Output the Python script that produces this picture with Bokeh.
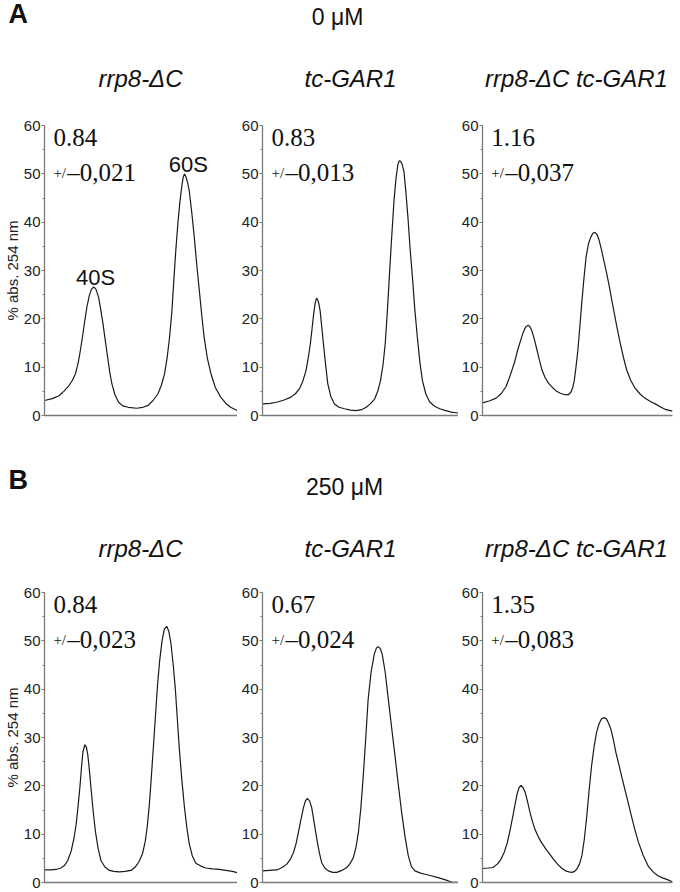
from bokeh.plotting import figure
from bokeh.models import Range1d, Label, SingleIntervalTicker, FixedTicker
from bokeh.layouts import column, row
from bokeh.embed import file_html
from bokeh.resources import INLINE

# ---------------- data (x = % of gradient, y = % abs. 254 nm) ----------------
A1_x = [0, 4, 7.5, 10, 12.7, 14.5, 16.1, 17.5, 18.6, 19.8, 20.9, 22, 23.2, 24.3, 25.5, 26.7, 28.0,
        29.1, 30.3, 31.5, 32.7, 33.8, 34.9, 36.5, 38.3, 40.5, 43.4, 47.7, 51, 53.7, 56, 58.8, 60.5,
        62.2, 63.5, 64.8, 66, 67.0, 68, 69.1, 70.1, 71.1, 71.8, 72.5, 73.3, 74.1, 75.0, 76.3, 77.6,
        78.9, 80.2, 81.5, 82.7, 84.4, 86.2, 88.5, 91.3, 94, 96.4, 100]
A1_y = [3.1, 3.5, 4.1, 5.0, 6.2, 7.3, 8.7, 11.0, 13.5, 16.6, 19.7, 22.5, 24.8, 26.1, 26.6, 26.1, 24.5,
        22.0, 19.0, 15.5, 12.1, 9.0, 6.6, 4.3, 2.8, 2.0, 1.7, 1.5, 1.7, 2.1, 3.0, 4.5, 6.2,
        8.6, 11.8, 16.2, 21.5, 27.9, 34.0, 39.7, 44.0, 47.3, 49.2, 50.0, 49.4, 48.3, 46.5, 42.0, 36.9,
        31.2, 25.9, 20.7, 16.2, 11.8, 8.7, 5.8, 3.8, 2.5, 1.7, 1.0]

A2_x = [0, 4, 7.7, 11, 14.5, 16.8, 18.8, 20.5, 22.2, 23.3, 24.4, 25.3, 26.1, 26.9, 27.6, 28.5, 29.4,
        30.2, 31.1, 32.2, 33.3, 34.8, 36.7, 39, 41.8, 45, 47.8, 50.5, 52.9, 55, 57.2, 58.8, 60.2,
        61.5, 62.6, 63.7, 64.8, 66, 67.1, 68.1, 69.1, 69.8, 70.5, 71.3, 72.2, 73.2, 74.2, 75.3,
        76.5, 77.7, 79.0, 80.3, 81.6, 83.3, 85.3, 87.8, 90.4, 93.5, 96.4, 100]
A2_y = [2.4, 2.5, 2.8, 3.2, 3.8, 4.5, 5.5, 7.0, 9.3, 11.8, 14.8, 18.0, 21.0, 23.3, 24.3, 23.6, 21.7,
        18.5, 14.8, 10.5, 6.6, 4.0, 2.4, 1.7, 1.4, 1.1, 1.0, 1.2, 1.7, 2.4, 3.4, 5.0, 7.2,
        10.5, 14.8, 21.5, 29.3, 37.5, 44.5, 49.0, 52.0, 52.7, 52.6, 51.9, 50.4, 46.0, 41.0, 34.5,
        28.6, 22.0, 16.2, 11.0, 7.2, 4.5, 2.8, 1.9, 1.4, 1.0, 0.7, 0.5]

A3_x = [0, 3.5, 7.2, 10, 12.4, 14.5, 16.7, 18.5, 20.1, 21.5, 22.7, 24.1, 25.1, 26.1, 27.4, 28.7, 30,
        31.3, 33, 34.7, 36.8, 39.0, 41, 43.3, 45.2, 46.5, 47.5, 48.3, 49.2, 50.2, 51.2, 52.2, 53.3,
        54.5, 55.8, 57.0, 58.1, 59.1, 60.2, 61.3, 62.6, 63.9, 65.2, 66.5, 67.8, 69.1, 70.8, 72.5,
        74.2, 75.9, 78, 80.2, 82.8, 85.4, 88.4, 91.4, 94, 96.6, 100]
A3_y = [2.6, 3.0, 3.6, 4.6, 6.0, 8.2, 10.8, 13.5, 15.6, 17.3, 18.3, 18.7, 18.3, 17.4, 15.6, 13.5, 11.4,
        9.4, 7.8, 6.7, 5.8, 5.0, 4.6, 4.3, 4.3, 4.8, 5.8, 7.2, 10.0, 13.5, 18.2, 23.1, 28.0,
        32.7, 35.6, 36.9, 37.7, 37.9, 37.5, 36.4, 34.3, 32.0, 29.7, 27.2, 24.4, 21.7, 18.2, 14.9,
        12.0, 9.4, 7.3, 5.7, 4.5, 3.6, 2.9, 2.3, 1.7, 1.2, 0.9]

B1_x = [0, 3, 6, 8.5, 10.3, 12, 13.8, 15.2, 16.4, 17.4, 18.4, 19.2, 19.9, 20.9, 21.7, 22.4, 23.2,
        24.1, 25.2, 26.4, 27.8, 29.3, 31.3, 33.6, 36, 38.8, 41.8, 44.8, 47, 49.1, 50.8, 52.2, 53.3,
        54.3, 55.3, 56.4, 57.5, 58.6, 59.7, 60.9, 62.1, 63.3, 64.4, 65.5, 66.7, 67.8, 68.8, 69.8,
        71.1, 72.4, 73.7, 75, 76.6, 78.4, 81, 83.6, 87, 90.5, 94, 97.4, 100]
B1_y = [2.6, 2.6, 2.7, 3.0, 3.5, 4.5, 6.5, 9.0, 12.0, 15.8, 20.0, 24.0, 27.0, 28.5, 28.0, 26.5, 23.5,
        19.5, 14.8, 10.5, 7.0, 4.5, 3.2, 2.5, 2.3, 2.2, 2.3, 2.5, 3.2, 4.4, 6.0, 8.5, 11.8,
        16.0, 21.5, 28.0, 34.5, 41.0, 46.0, 50.0, 52.4, 53.0, 52.0, 49.5, 45.0, 40.0, 34.0, 28.0,
        21.5, 16.0, 11.5, 8.0, 5.5, 4.0, 3.4, 3.0, 2.8, 2.7, 2.5, 2.3, 2.0]

B2_x = [0, 3.5, 7.3, 10, 12.4, 14.2, 15.8, 17.1, 18.3, 19.6, 20.9, 21.9, 22.9, 24.0, 25.1, 26.4,
        27.7, 29, 30.2, 31.8, 33.6, 35.8, 37.9, 40.5, 43.0, 44.8, 46.4, 47.7, 48.9, 50.2, 51.4,
        52.7, 53.9, 55.4, 57.0, 58.1, 59.1, 60.1, 61.1, 62.6, 64.2, 65.9, 67.6, 69.3, 71.0, 72.7,
        74.4, 76, 77.8, 80.3, 82.9, 86, 89.6, 93, 96.4, 100]
B2_y = [2.4, 2.5, 2.6, 3.1, 3.8, 4.8, 6.2, 8.0, 10.3, 13.0, 15.5, 16.9, 17.4, 16.9, 15.5, 12.3,
        9.0, 6.2, 4.1, 3.0, 2.4, 2.1, 2.1, 2.5, 3.1, 4.0, 5.2, 7.3, 10.3, 15.5, 22.0,
        30.0, 37.9, 43.5, 47.2, 48.5, 48.8, 48.4, 47.2, 43.5, 37.9, 32.0, 26.2, 20.2, 14.5, 9.5,
        5.5, 3.3, 2.4, 2.0, 1.7, 1.4, 1.0, 0.6, 0.1, 0.0]

B3_x = [0, 3, 5.5, 7.8, 9.7, 11.5, 13.1, 14.6, 16.0, 17.2, 18.2, 19.2, 20.3, 21.4, 22.5, 23.8, 25.0,
        26.3, 27.6, 29.3, 31.0, 33.2, 35.3, 37.4, 39.5, 41.6, 43.8, 45.5, 47.2, 48.5, 49.7, 51,
        52.3, 53.6, 54.9, 56.1, 57.4, 58.7, 60.0, 61.3, 62.5, 63.8, 65.1, 66.3, 67.6, 68.9, 70.2,
        71.9, 73.6, 75.8, 77.9, 80, 82.1, 84.6, 87.2, 89.8, 92.3, 95, 97.4, 100]
B3_y = [2.9, 3.0, 3.1, 3.8, 4.8, 6.3, 8.3, 11.0, 13.8, 16.3, 18.3, 19.6, 20.1, 19.6, 18.6, 16.6, 14.5,
        12.6, 11.0, 9.5, 8.3, 7.0, 5.9, 4.8, 3.8, 3.0, 2.4, 2.2, 2.1, 2.3, 2.8, 3.8,
        5.5, 9.0, 13.8, 19.0, 24.1, 28.0, 31.0, 32.8, 33.8, 34.1, 33.9, 33.0, 31.7, 29.5, 26.9,
        24.2, 21.4, 17.9, 14.5, 11.2, 8.3, 5.6, 3.4, 2.2, 1.4, 0.9, 0.6, 0.1]

strains = ["rrp8-\u0394C", "tc-GAR1", "rrp8-\u0394C tc-GAR1"]
concentrations = ["0 \u03bcM", "250 \u03bcM"]
panel_letters = ["A", "B"]
ratios = [["0.84", "0.83", "1.16"], ["0.84", "0.67", "1.35"]]
errors = [["0,021", "0,013", "0,037"], ["0,023", "0,024", "0,083"]]
peak_names = ["40S", "60S"]
y_label = "% abs. 254 nm"

SANS = "Liberation Sans"
SERIF = "Liberation Serif"
AXIS_COL = "#7a7a7a"

W = 674
col_left = [42, 25, 21]      # left borders
col_fw = [195, 196, 193]     # frame widths
col_right = [0, 0, 2]


def panel(xs, ys, ci, ratio, err, bt, fh, bb, peaks=False):
    bl, fw, br = col_left[ci], col_fw[ci], col_right[ci]
    p = figure(width=bl + fw + br, height=bt + fh + bb,
               x_range=Range1d(0, 100), y_range=Range1d(0, 60),
               output_backend="svg", toolbar_location=None,
               min_border_left=bl, min_border_right=br,
               min_border_top=bt, min_border_bottom=bb)
    p.outline_line_color = None
    p.grid.grid_line_color = None
    # x axis: plain line
    xa = p.xaxis[0]
    xa.ticker = FixedTicker(ticks=[])
    xa.major_tick_out = 0
    xa.major_tick_in = 0
    xa.minor_tick_out = 0
    xa.minor_tick_in = 0
    xa.major_label_standoff = 0
    xa.axis_line_color = AXIS_COL
    xa.axis_line_width = 1.3
    # y axis
    ya = p.yaxis[0]
    ya.ticker = SingleIntervalTicker(interval=10, num_minor_ticks=2)
    ya.major_tick_in = 0
    ya.major_tick_out = 3
    ya.minor_tick_in = 0
    ya.minor_tick_out = 2
    ya.major_label_standoff = 1
    ya.axis_line_color = AXIS_COL
    ya.axis_line_width = 1.3
    ya.major_tick_line_color = AXIS_COL
    ya.minor_tick_line_color = AXIS_COL
    ya.major_label_text_font = SANS
    ya.major_label_text_font_size = "15px"
    ya.major_label_text_color = "#222222"
    if ci == 0:
        ya.axis_label = y_label
        ya.axis_label_standoff = 0
        ya.axis_label_text_font = SANS
        ya.axis_label_text_font_size = "15px"
        ya.axis_label_text_font_style = "normal"
        ya.axis_label_text_color = "#222222"

    p.line(xs, ys, line_color="#1a1a1a", line_width=1.2)

    px = 100.0 / fw
    p.add_layout(Label(x=9 * px, y=57.5, text=ratio, text_font=SERIF,
                       text_font_size="25px", text_color="#111111",
                       text_align="left", text_baseline="alphabetic"))
    p.add_layout(Label(x=9 * px, y=50.2, text="+/", text_font=SERIF,
                       text_font_size="15px", text_color="#111111",
                       text_align="left", text_baseline="alphabetic"))
    p.add_layout(Label(x=23 * px, y=50.2, text="\u2013" + err, text_font=SERIF,
                       text_font_size="25px", text_color="#111111",
                       text_align="left", text_baseline="alphabetic"))
    if peaks:
        half = len(xs) // 2
        i1 = max(range(half), key=lambda i: ys[i])
        i2 = max(range(half, len(xs)), key=lambda i: ys[i])
        for name, i, dx in zip(peak_names, [i1, i2], [1.0, 2.0]):
            p.add_layout(Label(x=xs[i] + dx, y=ys[i] + 2.0, text=name, text_font=SANS,
                               text_font_size="22px", text_color="#111111",
                               text_align="center", text_baseline="alphabetic"))
    return p


def header(H, letter, letter_y, conc, conc_x, conc_y, sub_y):
    h = figure(width=W, height=H, x_range=Range1d(0, W), y_range=Range1d(0, H),
               output_backend="svg", toolbar_location=None, min_border=0)
    h.axis.visible = False
    h.grid.grid_line_color = None
    h.outline_line_color = None
    h.add_layout(Label(x=8, y=letter_y, text=letter, text_font=SANS, text_font_style="bold",
                       text_font_size="27px", text_color="#111111",
                       text_align="left", text_baseline="middle"))
    h.add_layout(Label(x=conc_x, y=conc_y, text=conc, text_font=SANS,
                       text_font_size="23px", text_color="#111111",
                       text_align="center", text_baseline="middle"))
    for s, sx in zip(strains, [140, 350, 576]):
        h.add_layout(Label(x=sx, y=sub_y, text=s, text_font=SANS, text_font_style="italic",
                           text_font_size="24px", text_color="#111111",
                           text_align="center", text_baseline="middle"))
    return h


hA = header(108, panel_letters[0], 95, concentrations[0], 337, 92, 30)
rowA = row(
    panel(A1_x, A1_y, 0, ratios[0][0], errors[0][0], 17, 290, 9, peaks=True),
    panel(A2_x, A2_y, 1, ratios[0][1], errors[0][1], 17, 290, 9),
    panel(A3_x, A3_y, 2, ratios[0][2], errors[0][2], 17, 290, 9),
)
hB = header(148, panel_letters[1], 93, concentrations[1], 344, 86, 24)
rowB = row(
    panel(B1_x, B1_y, 0, ratios[1][0], errors[1][0], 20, 290, 9),
    panel(B2_x, B2_y, 1, ratios[1][1], errors[1][1], 20, 290, 9),
    panel(B3_x, B3_y, 2, ratios[1][2], errors[1][2], 20, 290, 9),
)

layout = column(hA, rowA, hB, rowB)

with open("out.html", "w") as f:
    f.write(file_html(layout, INLINE))
